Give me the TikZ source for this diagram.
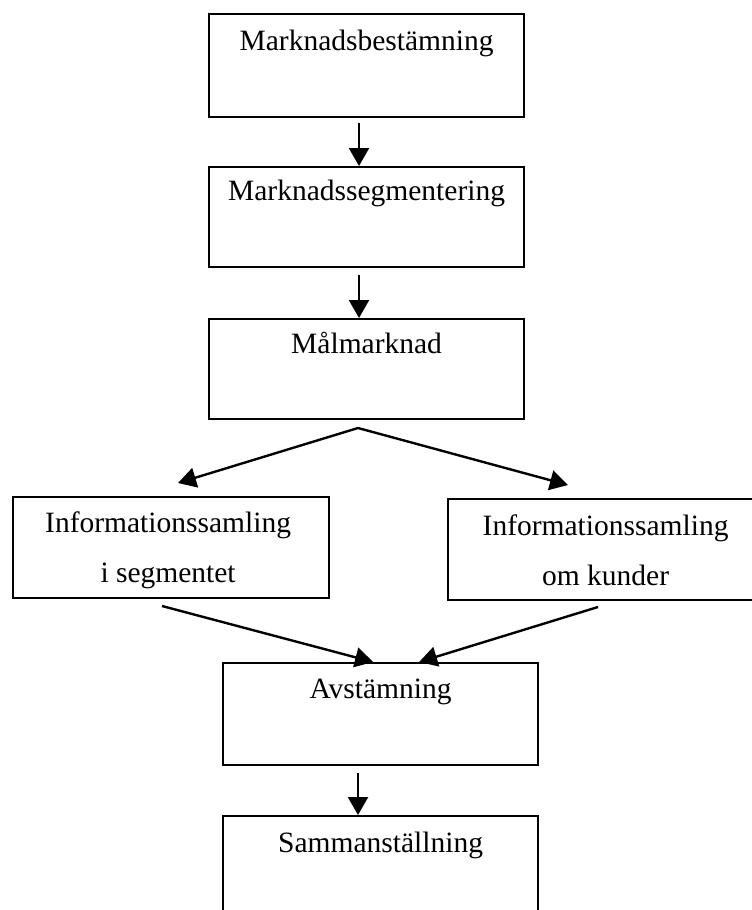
\documentclass[tikz,border=0pt]{standalone}
\usepackage{fontspec}
\setmainfont{Liberation Serif}
\usetikzlibrary{arrows.meta}
\begin{document}
\begin{tikzpicture}[x=1pt,y=-1pt,
  box/.style={draw=black, line width=2.2pt, rectangle, anchor=north west, inner sep=0pt},
  lbl/.style={anchor=base, inner sep=0pt, align=center, font=\fontsize{29.5}{50}\selectfont},
  arr/.style={line width=2.4pt, -{Triangle[length=18pt,width=20pt]}}]
\useasboundingbox (0,0) rectangle (752,910);
% boxes
\node[box, minimum width=315pt, minimum height=103pt] (b1) at (208,13) {};
\node[box, minimum width=315pt, minimum height=100pt] (b2) at (208,166) {};
\node[box, minimum width=315pt, minimum height=100pt] (b3) at (208,318) {};
\node[box, minimum width=316pt, minimum height=101pt] (b4) at (12,496) {};
\node[box, minimum width=315pt, minimum height=101pt] (b5) at (447,498) {};
\node[box, minimum width=315pt, minimum height=102pt] (b6) at (222,662) {};
\node[box, minimum width=315pt, minimum height=130pt] (b7) at (222,815) {};
% labels
\node[lbl] (t1) at ([yshift=-37pt]b1.north) {Marknadsbestämning};
\node[lbl] (t2) at ([yshift=-34pt]b2.north) {Marknadssegmentering};
\node[lbl] (t3) at ([yshift=-35pt]b3.north) {Målmarknad};
\node[lbl] (t4) at ([yshift=-86pt,xshift=-3pt]b4.north) {Informationssamling\\i segmentet};
\node[lbl] (t5) at ([yshift=-87pt]b5.north) {Informationssamling\\om kunder};
\node[lbl] (t6) at ([yshift=-36pt]b6.north) {Avstämning};
\node[lbl] (t7) at ([yshift=-37pt]b7.north) {Sammanställning};
% free ends
\coordinate (c1) at (359,123);
\coordinate (c2) at (359,275);
\coordinate (apex) at (358,428);
\coordinate (l4) at (178,483);
\coordinate (l5) at (568,485);
\coordinate (s4) at (162,606);
\coordinate (s5) at (598,607);
\coordinate (c6) at (358,773);
% connectors
\draw[arr] (c1) -- (c1 |- b2.north);
\draw[arr] (c2) -- (c2 |- b3.north);
\draw[arr] (apex) -- (l4);
\draw[arr] (apex) -- (l5);
\draw[arr] (s4) -- ([xshift=-7.5pt]b6.north);
\draw[arr] (s5) -- ([xshift=38.5pt]b6.north);
\draw[arr] (c6) -- (c6 |- b7.north);
\end{tikzpicture}
\end{document}
